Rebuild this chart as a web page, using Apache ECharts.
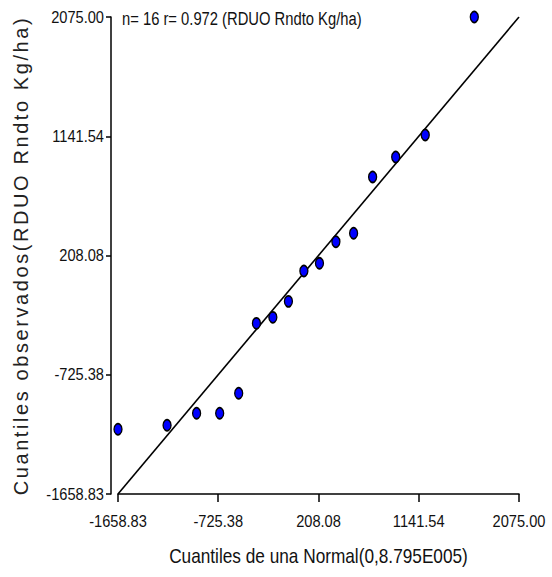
<!DOCTYPE html>
<html>
<head>
<meta charset="utf-8">
<script src="https://cdn.jsdelivr.net/npm/echarts@6/dist/echarts.min.js"></script>
<style>
html,body{margin:0;padding:0;background:#fff;}
#chart{width:552px;height:577px;}
</style>
</head>
<body>
<div id="chart"></div>
<script>
// ---- data ----
var normalQuantiles = [-1658.83, -1202, -927, -712, -535, -370, -217, -72, 72, 217, 370, 535, 712, 927, 1202, 1658.83];
var observedQuantiles = [-1152, -1121, -1027, -1027, -870, -323, -276, -151, 87, 147, 316, 382, 823, 979, 1151, 2075];
var refLineEnds = [-1658.83, 2075];
var tickLabels = ['-1658.83', '-725.38', '208.08', '1141.54', '2075.00'];
var annotation = 'n= 16 r= 0.972 (RDUO Rndto Kg/ha)';
var xTitle = 'Cuantiles de una Normal(0,8.795E005)';
var yTitle = 'Cuantiles observados(RDUO Rndto Kg/ha)';

var tickValues = tickLabels.map(Number);
var points = normalQuantiles.map(function (x, i) { return [x, observedQuantiles[i]]; });
var refLine = refLineEnds.map(function (v) { return [v, v]; });

var FONT = "'Liberation Sans', Arial, sans-serif";

var chart = echarts.init(document.getElementById('chart'), null, { renderer: 'svg' });

var axisCommon = {
  type: 'value',
  min: tickValues[0],
  max: tickValues[tickValues.length - 1],
  splitLine: { show: false },
  nameMoveOverlap: false,
  axisLine: { show: true, onZero: false, lineStyle: { color: '#000', width: 1.5 } },
  axisTick: { show: true, customValues: tickValues, lineStyle: { color: '#000', width: 1.5 } },
  axisLabel: {
    customValues: tickValues,
    color: '#111',
    fontFamily: FONT,
    fontSize: 17,
    formatter: function (v) { return Number(v).toFixed(2); }
  }
};

chart.setOption({
  animation: false,
  backgroundColor: '#fff',
  grid: { left: 118, right: 33, top: 17, bottom: 83, outerBoundsMode: 'none', containLabel: false },
  xAxis: echarts.util.merge({
    name: xTitle,
    nameLocation: 'middle',
    nameGap: 51,
    nameTextStyle: { color: '#111', fontFamily: FONT, fontSize: 21 },
    axisTick: { length: 8 },
    axisLabel: { margin: 19 }
  }, axisCommon),
  yAxis: echarts.util.merge({
    name: yTitle,
    nameLocation: 'middle',
    nameRotate: 90,
    nameGap: 80,
    offset: 7,
    nameTextStyle: { color: '#222', fontFamily: FONT, fontSize: 20 },
    axisTick: { length: 5 },
    axisLabel: { margin: 7 }
  }, axisCommon),
  graphic: [{
    type: 'text',
    left: 122,
    top: 10,
    style: { text: annotation, fill: '#111', font: '18px ' + FONT }
  }],
  series: [
    {
      type: 'line',
      data: refLine,
      symbol: 'none',
      lineStyle: { color: '#000', width: 1.6 },
      silent: true,
      z: 2
    },
    {
      type: 'scatter',
      data: points,
      symbol: 'circle',
      symbolSize: [8, 11],
      itemStyle: { color: '#0000ff', borderColor: '#000', borderWidth: 1.5, opacity: 1 },
      z: 3
    }
  ]
});

// The reference uses a condensed face for labels and a letter-spaced y title.
function adjustTexts() {
  var texts = document.querySelectorAll('#chart svg text');
  for (var i = 0; i < texts.length; i++) {
    var t = texts[i];
    if (t.textContent === yTitle) {
      t.style.letterSpacing = '0px';
      var len = t.getComputedTextLength();
      var ls = (477 - len) / (yTitle.length - 1);
      if (ls > 0) t.style.letterSpacing = ls + 'px';
    } else if (!t.getAttribute('data-cond')) {
      var w = t.getComputedTextLength();
      if (w > 0) {
        var f = tickLabels.indexOf(t.textContent) >= 0 ? 0.86 : 0.82;
        t.setAttribute('textLength', (w * f).toFixed(2));
        t.setAttribute('lengthAdjust', 'spacingAndGlyphs');
        t.setAttribute('data-cond', '1');
      }
    }
  }
}
adjustTexts();
chart.on('finished', adjustTexts);
</script>
</body>
</html>
